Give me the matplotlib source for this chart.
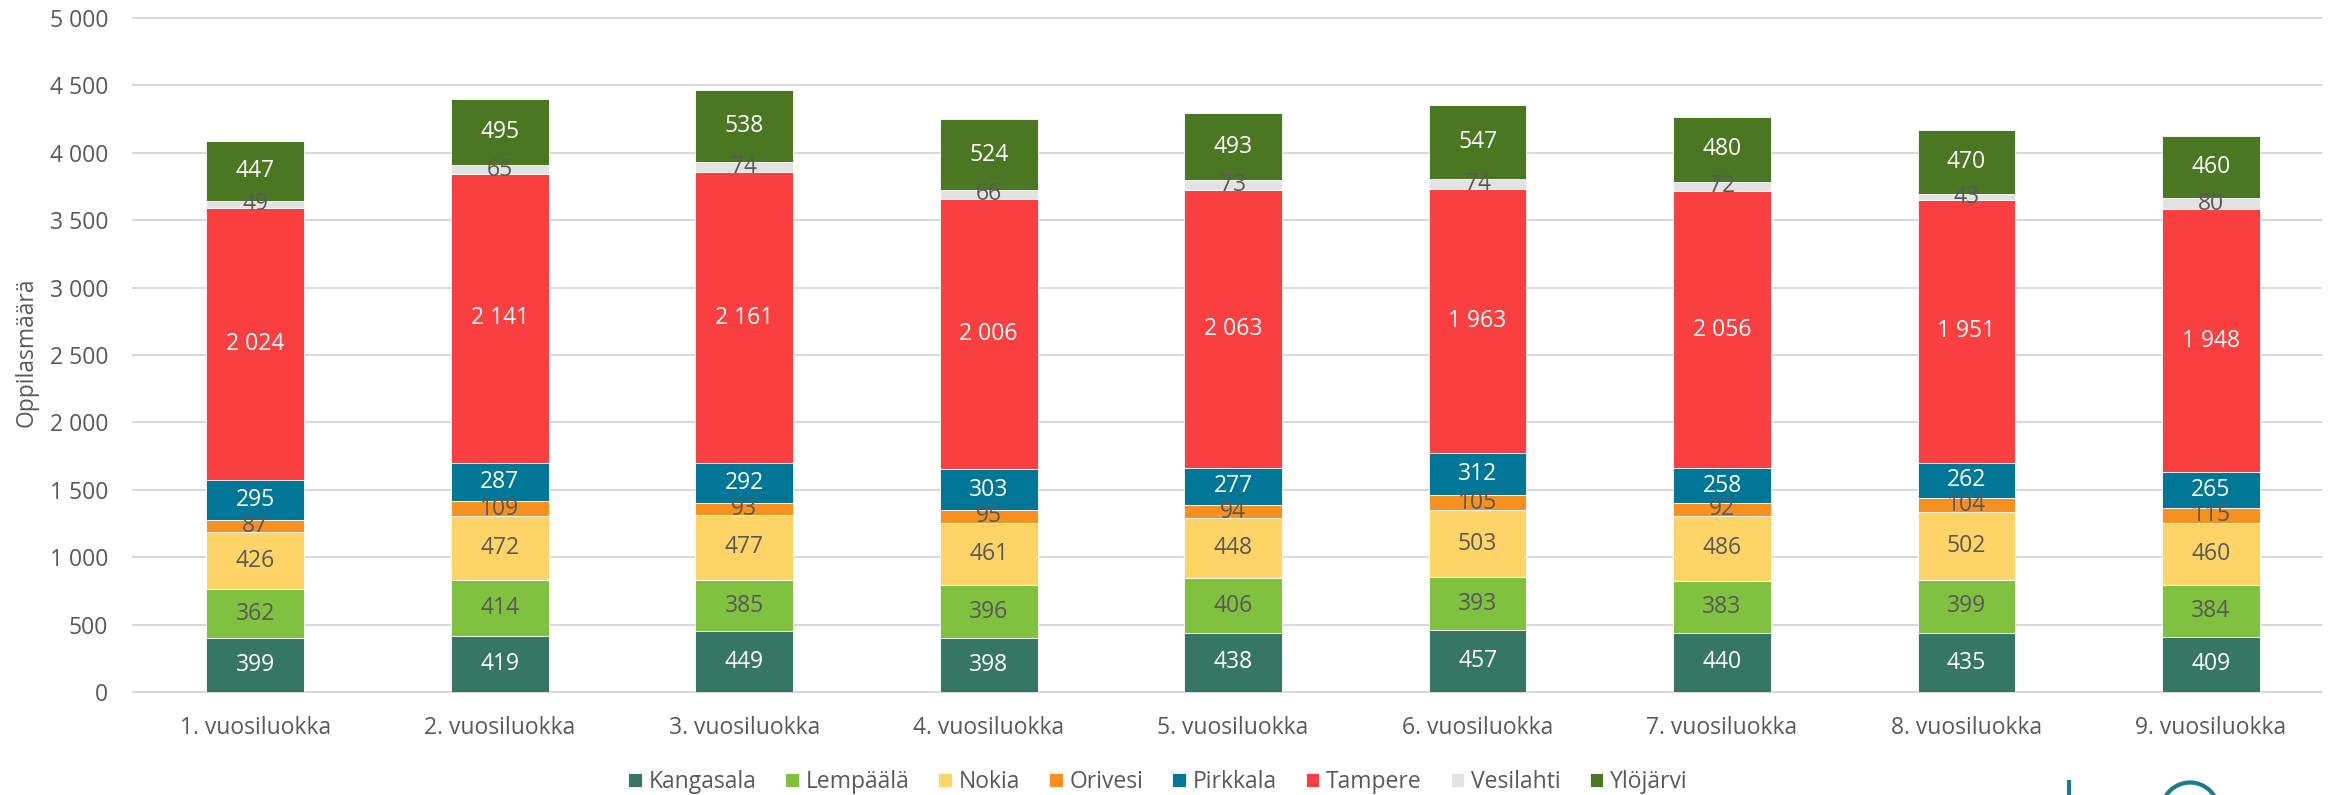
import matplotlib.pyplot as plt
from matplotlib.patches import Circle
from matplotlib.lines import Line2D
import numpy as np

plt.rcParams['font.family'] = ['Open Sans', 'DejaVu Sans']

# data
grades = ['1. vuosiluokka', '2. vuosiluokka', '3. vuosiluokka', '4. vuosiluokka',
          '5. vuosiluokka', '6. vuosiluokka', '7. vuosiluokka', '8. vuosiluokka',
          '9. vuosiluokka']
kangasala = [399, 419, 449, 398, 438, 457, 440, 435, 409]
lempaala = [362, 414, 385, 396, 406, 393, 383, 399, 384]
nokia = [426, 472, 477, 461, 448, 503, 486, 502, 460]
orivesi = [87, 109, 93, 95, 94, 105, 92, 104, 115]
pirkkala = [295, 287, 292, 303, 277, 312, 258, 262, 265]
tampere = [2024, 2141, 2161, 2006, 2063, 1963, 2056, 1951, 1948]
vesilahti = [49, 65, 74, 66, 73, 74, 72, 43, 80]
ylojarvi = [447, 495, 538, 524, 493, 547, 480, 470, 460]

series = [
    ('Kangasala', kangasala, '#367665', 'white'),
    ('Lempäälä', lempaala, '#80C140', '#595959'),
    ('Nokia', nokia, '#FED467', '#595959'),
    ('Orivesi', orivesi, '#F7901E', '#595959'),
    ('Pirkkala', pirkkala, '#007797', 'white'),
    ('Tampere', tampere, '#F93F3F', 'white'),
    ('Vesilahti', vesilahti, '#E3E3E3', '#595959'),
    ('Ylöjärvi', ylojarvi, '#4B7622', 'white'),
]

grey = '#595959'
fs = 16.5

fig = plt.figure(figsize=(23.3, 7.95), dpi=100)
ax = fig.add_axes([133 / 2330, 1 - 692 / 795, (2321 - 133) / 2330, (692 - 18) / 795])

x = np.arange(len(grades))
bottom = np.zeros(len(grades))


def fmt(v):
    return f'{v:,}'.replace(',', ' ')


for name, vals, col, tcol in series:
    vals = np.array(vals)
    ax.bar(x, vals, 0.4, bottom=bottom, color=col, label=name,
           edgecolor='white', linewidth=0.6, zorder=3)
    for xi, b, v in zip(x, bottom, vals):
        ax.text(xi, b + v / 2, fmt(v), ha='center', va='center',
                color=tcol, fontsize=fs, zorder=4)
    bottom += vals

ax.set_xlim(-0.5, 8.45)
ax.set_ylim(0, 5000)
ax.set_yticks(range(0, 5001, 500))
ax.set_yticklabels([fmt(v) for v in range(0, 5001, 500)])
ax.set_xticks(x)
ax.set_xticklabels(grades)
ax.tick_params(axis='both', length=0, colors=grey, labelsize=fs)
ax.tick_params(axis='y', pad=18)
ax.tick_params(axis='x', pad=17)
ax.grid(axis='y', color='#D9D9D9', linewidth=1.5, zorder=0, clip_on=False)
for s in ax.spines.values():
    s.set_visible(False)

fig.text(27 / 2330, 1 - 352 / 795, 'Oppilasmäärä', rotation=90, ha='center',
         va='center', color=grey, fontsize=fs)

ax.legend(loc='center', bbox_to_anchor=(0.497, 0.016), bbox_transform=fig.transFigure,
          ncol=8, frameon=False, fontsize=fs, labelcolor=grey,
          handlelength=0.6, handleheight=0.6, handletextpad=0.3, columnspacing=1.25)

# partial logo in the bottom right corner (cut off by the image edge)
fig.add_artist(Line2D([2069 / 2330, 2069 / 2330], [0, 13 / 795], color='#1B7A94',
                      linewidth=3, transform=fig.transFigure))
fig.add_artist(Circle((2190, -16), 28.5, transform=None, fill=False,
                      edgecolor='#1B7A94', linewidth=3))

fig.savefig('out.png', dpi=100)
